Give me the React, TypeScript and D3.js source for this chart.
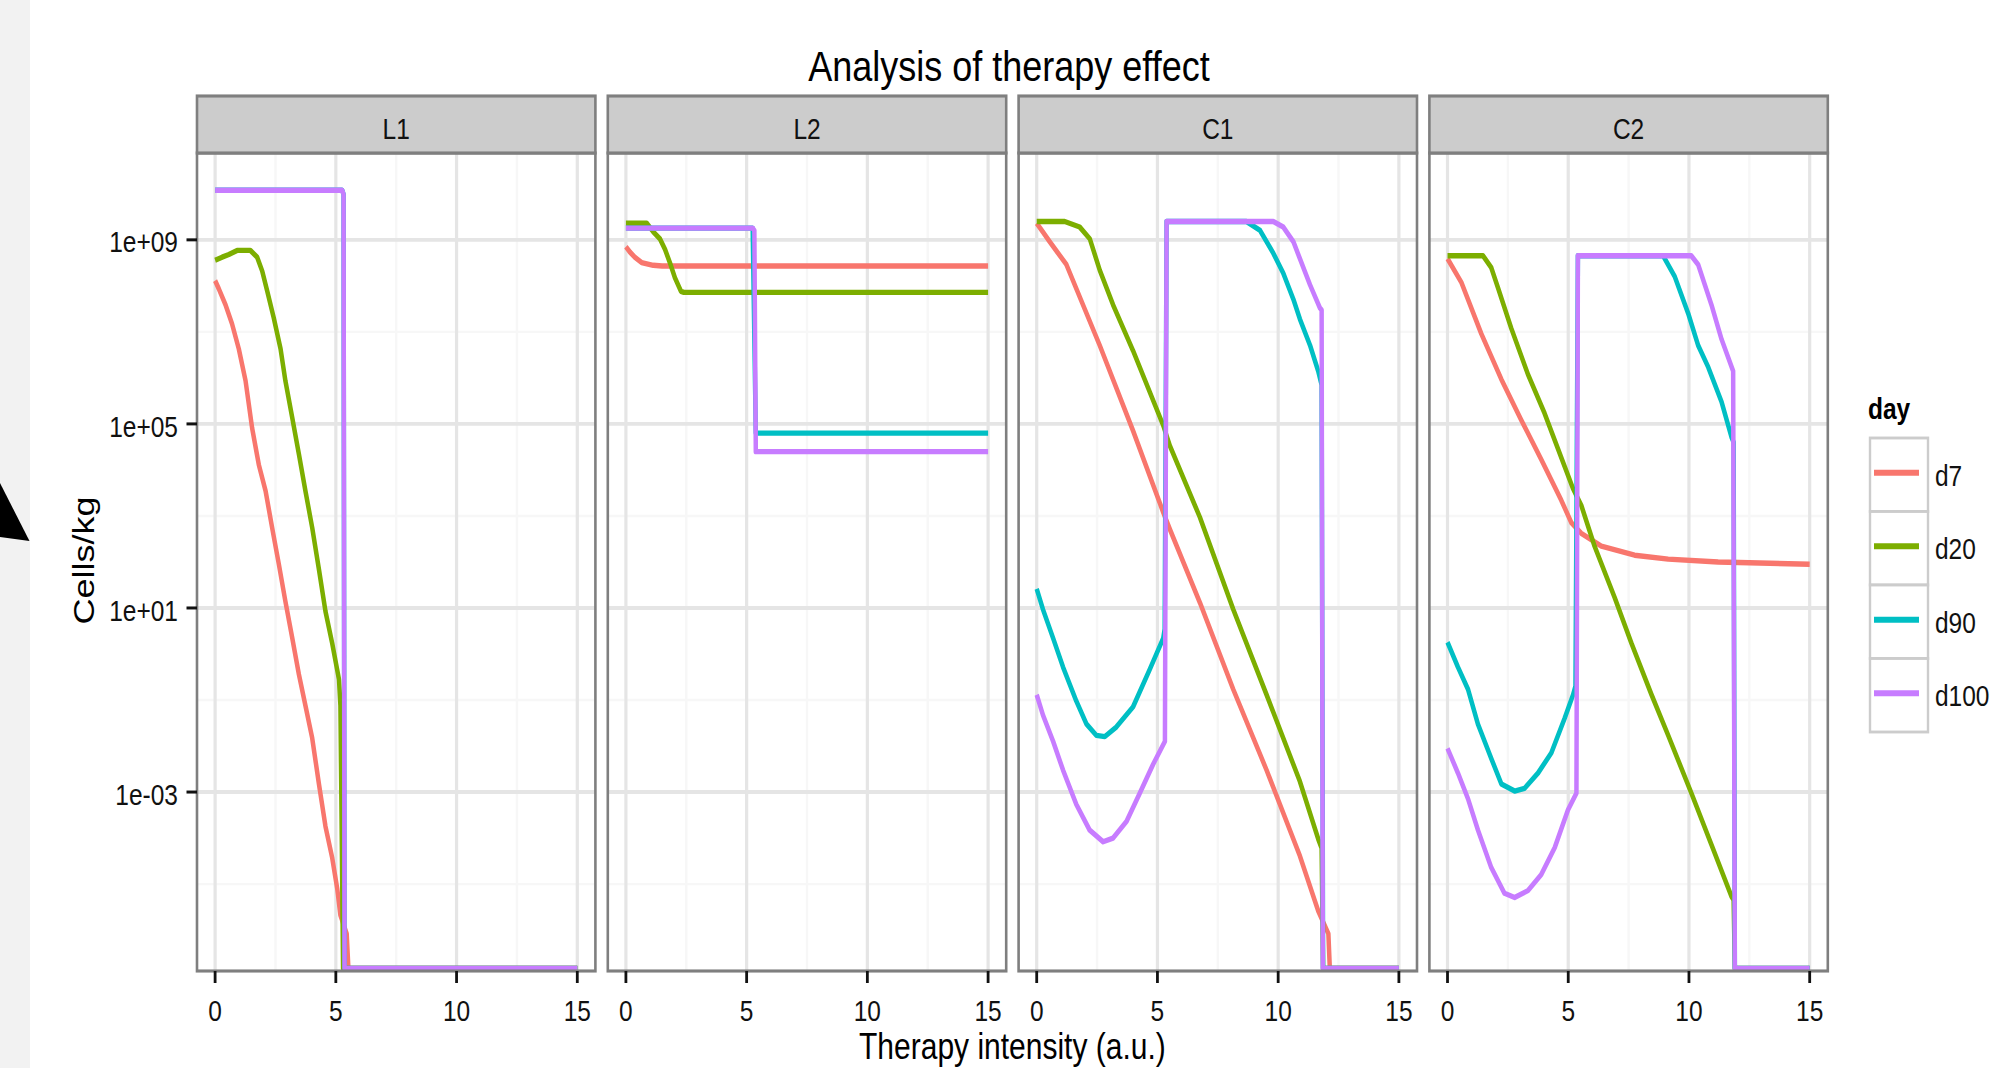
import React from "react";
import * as d3 from "d3";

type Pt = [number, number];

// ---- data: [therapy intensity, cells/kg]; 0 = below the log axis
const days = ["d7", "d20", "d90", "d100"];
const dayColors = ["#F8766D", "#7CAE00", "#00BFC4", "#C77CFF"];
const panelNames = ["L1", "L2", "C1", "C2"];
const xTicks = [0, 5, 10, 15];
const xMinor = [2.5, 7.5, 12.5];
const yTicks = [1e-3, 1e1, 1e5, 1e9];
const yTickLabels = ["1e-03", "1e+01", "1e+05", "1e+09"];
const yMinor = [1e-5, 1e-1, 1e3, 1e7];

const L1_d7: Pt[] = [
  [0, 1.3e8], [0.15, 8.7e7], [0.43, 3.9e7], [0.7, 1.5e7], [0.98, 4.3e6], [1.26, 8.7e5],
  [1.53, 8.3e4], [1.81, 1.3e4], [2.09, 3.5e3], [2.36, 5.6e2], [2.64, 8.9e1], [2.91, 1.4e1],
  [3.19, 2.3], [3.47, 0.36], [3.74, 0.076], [4.02, 0.015], [4.3, 1.5e-3], [4.57, 1.8e-4],
  [4.85, 3.7e-5], [5.06, 7.8e-6], [5.19, 2.1e-6], [5.45, 8.3e-7], [5.52, 0], [15, 0],
];
const L1_d20: Pt[] = [
  [0, 3.6e8], [0.29, 4.2e8], [0.57, 4.8e8], [0.91, 5.9e8], [1.46, 5.9e8], [1.74, 4.2e8],
  [1.95, 2.1e8], [2.16, 7.6e7], [2.43, 2.0e7], [2.71, 4.3e6], [2.91, 8.7e5], [3.19, 1.4e5],
  [3.47, 2.2e4], [3.74, 3.5e3], [4.02, 5.6e2], [4.3, 6.9e1], [4.57, 8.5], [4.85, 1.7],
  [5.13, 0.28], [5.19, 0.076], [5.3, 0], [15, 0],
];
const L1_d90: Pt[] = [[0, 1.2e10], [5.26, 1.2e10], [5.32, 9.8e9], [5.36, 0], [15, 0]];
const L1_d100: Pt[] = [[0, 1.2e10], [5.26, 1.2e10], [5.32, 9.8e9], [5.36, 0], [15, 0]];

const L2_d7: Pt[] = [
  [0, 7.1e8], [0.17, 5.4e8], [0.37, 4.2e8], [0.65, 3.2e8], [1.13, 2.8e8], [1.5, 2.7e8], [15, 2.7e8],
];
const L2_d20: Pt[] = [
  [0, 2.3e9], [0.86, 2.3e9], [1.13, 1.5e9], [1.41, 1.05e9], [1.62, 6.2e8], [1.82, 3.2e8],
  [2.03, 1.5e8], [2.28, 7.6e7], [2.4, 7.2e7], [15, 7.2e7],
];
const L2_d90: Pt[] = [[0, 1.8e9], [5.25, 1.8e9], [5.38, 6.3e4], [15, 6.3e4]];
const L2_d100: Pt[] = [[0, 1.8e9], [5.25, 1.8e9], [5.32, 1.6e9], [5.38, 2.5e4], [15, 2.5e4]];

const C1_d7: Pt[] = [
  [0, 2.3e9], [0.25, 1.5e9], [0.54, 9.1e8], [1.23, 2.9e8], [2.61, 5.1e6], [3.99, 7.1e4],
  [5.24, 1.2e3], [5.51, 5.2e2], [6.76, 1.3e1], [8.14, 0.17], [9.52, 3.0e-3], [10.9, 4.1e-5],
  [11.66, 2.6e-6], [12.08, 8.3e-7], [12.14, 0], [15, 0],
];
const C1_d20: Pt[] = [
  [0, 2.5e9], [1.16, 2.5e9], [1.78, 1.9e9], [2.2, 1.05e9], [2.61, 2.2e8], [3.16, 3.9e7],
  [3.99, 3.9e6], [5.24, 9.3e4], [5.51, 3.4e4], [6.76, 9.3e2], [8.14, 9.3], [9.52, 0.13],
  [10.9, 1.7e-3], [11.66, 9.5e-5], [11.8, 6e-5], [11.86, 0], [15, 0],
];
const C1_d90: Pt[] = [
  [0, 2.6e1], [0.26, 9.3], [0.68, 2.2], [1.09, 0.52], [1.64, 0.095], [2.06, 0.03], [2.47, 0.017],
  [2.82, 0.016], [3.3, 0.026], [3.99, 0.071], [4.68, 0.46], [5.24, 2.2], [5.3, 3.5],
  [5.38, 2.5e9], [8.69, 2.5e9], [9.25, 1.6e9], [9.8, 5.1e8], [10.21, 1.9e8], [10.63, 5.1e7],
  [10.9, 1.9e7], [11.32, 5.1e6], [11.66, 1.4e6], [11.8, 7e5], [11.86, 0], [15, 0],
];
const C1_d100: Pt[] = [
  [0, 0.13], [0.26, 0.047], [0.68, 0.0126], [1.09, 3.0e-3], [1.64, 5.4e-4], [2.19, 1.5e-4],
  [2.75, 8.3e-5], [3.16, 1.0e-4], [3.72, 2.3e-4], [4.27, 9.5e-4], [4.82, 4.0e-3], [5.31, 0.0126],
  [5.38, 2.5e9], [9.8, 2.5e9], [10.21, 1.9e9], [10.63, 9.1e8], [10.9, 3.9e8], [11.32, 1.05e8],
  [11.73, 3.3e7], [11.8, 3.0e7], [11.85, 0], [15, 0],
];

const C2_d7: Pt[] = [
  [0, 3.9e8], [0.57, 1.2e8], [1.4, 9.1e6], [2.23, 9.3e5], [3.06, 1.2e5], [3.88, 1.7e4],
  [4.71, 2.2e3], [5.13, 7.1e2], [5.54, 4.2e2], [6.37, 2.2e2], [7.75, 1.4e2], [9.14, 1.15e2],
  [11.21, 1.0e2], [15, 8.9e1],
];
const C2_d20: Pt[] = [
  [0, 4.5e8], [1.47, 4.5e8], [1.81, 2.5e8], [2.09, 9.1e7], [2.64, 1.2e7], [3.33, 1.2e6],
  [4.02, 1.7e5], [4.85, 1.2e4], [5.2, 3.9e3], [5.54, 1.7e3], [6.09, 2.2e2], [6.92, 1.7e1],
  [7.62, 1.7], [8.45, 0.13], [9.14, 0.017], [10.1, 9.5e-4], [10.93, 7.2e-5], [11.76, 5.4e-6],
  [11.85, 4.5e-6], [11.9, 0], [15, 0],
];
const C2_d90: Pt[] = [
  [0, 1.8], [0.43, 0.52], [0.85, 0.17], [1.26, 0.03], [1.81, 5.4e-3], [2.23, 1.5e-3],
  [2.78, 1.05e-3], [3.19, 1.2e-3], [3.75, 2.6e-3], [4.3, 7.1e-3], [4.85, 0.04], [5.2, 0.13],
  [5.3, 0.2], [5.4, 4.5e8], [8.93, 4.5e8], [9.41, 1.6e8], [9.97, 2.5e7], [10.38, 5.1e6],
  [10.8, 1.7e6], [11.35, 3.0e5], [11.76, 5.2e4], [11.85, 4e4], [11.9, 0], [15, 0],
];
const C2_d100: Pt[] = [
  [0, 8.9e-3], [0.43, 2.6e-3], [0.85, 7.1e-4], [1.26, 1.5e-4], [1.81, 2.3e-5], [2.36, 6.3e-6],
  [2.78, 5.1e-6], [3.33, 7.2e-6], [3.88, 1.6e-5], [4.44, 6.2e-5], [4.99, 4.1e-4], [5.34, 9.5e-4],
  [5.4, 4.5e8], [10.1, 4.5e8], [10.38, 2.9e8], [10.66, 1.05e8], [10.93, 3.9e7], [11.35, 6.9e6],
  [11.83, 1.4e6], [11.9, 0], [15, 0],
];

const panelSeries: Pt[][][] = [
  [L1_d7, L1_d20, L1_d90, L1_d100],
  [L2_d7, L2_d20, L2_d90, L2_d100],
  [C1_d7, C1_d20, C1_d90, C1_d100],
  [C2_d7, C2_d20, C2_d90, C2_d100],
];

// ---- layout (the reference is stretched vertically, so draw in a y-scaled group)
const W = 2005;
const H = 1068;
const SY = 1.2;
const u = (v: number) => v / SY;

const panelLeft = 197;
const panelW = 398.4;
const panelGap = 12.4;
const stripTop = u(96);
const panelTop = u(153);
const panelBottom = u(971);
const font = "'Liberation Sans', Arial, Helvetica, sans-serif";
const grey50 = "#7f7f7f";

const allPts = panelSeries.flat(2);
const xExt = d3.extent(allPts, (d) => d[0]) as [number, number];
const xPad = (xExt[1] - xExt[0]) * 0.05;
const posVals = allPts.map((d) => d[1]).filter((v) => v > 0);
const lo = Math.log10(d3.min(posVals)!);
const hi = Math.log10(d3.max(posVals)!);
const yPad = (hi - lo) * 0.05;
const y = d3.scaleLog().domain([10 ** (lo - yPad), 10 ** (hi + yPad)]).range([panelBottom, panelTop]);
const yZero = panelBottom - u(2.5);

const panelX = (i: number) => panelLeft + i * (panelW + panelGap);

const Panel = ({ i }: { i: number }) => {
  const left = panelX(i);
  const x = d3.scaleLinear().domain([xExt[0] - xPad, xExt[1] + xPad]).range([left, left + panelW]);
  const line = d3
    .line<Pt>()
    .x((d) => x(d[0]))
    .y((d) => (d[1] > 0 ? y(d[1]) : yZero));
  const clipId = `clip-${i}`;
  return (
    <g>
      <clipPath id={clipId}>
        <rect x={left} y={panelTop} width={panelW} height={panelBottom - panelTop} />
      </clipPath>
      <rect x={left} y={panelTop} width={panelW} height={panelBottom - panelTop} fill="#fff" />
      <g clipPath={`url(#${clipId})`}>
        {yMinor.map((t) => (
          <line key={"ym" + t} x1={left} x2={left + panelW} y1={y(t)} y2={y(t)} stroke="#f7f7f7" strokeWidth={2} />
        ))}
        {xMinor.map((t) => (
          <line key={"xm" + t} x1={x(t)} x2={x(t)} y1={panelTop} y2={panelBottom} stroke="#f7f7f7" strokeWidth={2.4} />
        ))}
        {yTicks.map((t) => (
          <line key={"yg" + t} x1={left} x2={left + panelW} y1={y(t)} y2={y(t)} stroke="#e5e5e5" strokeWidth={3.2} />
        ))}
        {xTicks.map((t) => (
          <line key={"xg" + t} x1={x(t)} x2={x(t)} y1={panelTop} y2={panelBottom} stroke="#e5e5e5" strokeWidth={3.2} />
        ))}
        {panelSeries[i].map((s, k) => (
          <path
            key={days[k]}
            d={line(s) || ""}
            fill="none"
            stroke={dayColors[k]}
            strokeWidth={4.5}
            strokeLinejoin="round"
          />
        ))}
      </g>
      <rect
        x={left}
        y={panelTop}
        width={panelW}
        height={panelBottom - panelTop}
        fill="none"
        stroke={grey50}
        strokeWidth={2.6}
      />
      <rect
        x={left}
        y={stripTop}
        width={panelW}
        height={panelTop - stripTop}
        fill="#cccccc"
        stroke={grey50}
        strokeWidth={2.6}
      />
      <text
        x={left + panelW / 2}
        y={u(139)}
        textAnchor="middle"
        fontSize={24.5}
        fontFamily={font}
        fill="#111"
      >
        {panelNames[i]}
      </text>
      {xTicks.map((t) => (
        <g key={"xt" + t}>
          <line x1={x(t)} x2={x(t)} y1={panelBottom} y2={u(983)} stroke="#111" strokeWidth={2.8} />
          <text x={x(t)} y={u(1021)} textAnchor="middle" fontSize={24.5} fontFamily={font} fill="#111">
            {t}
          </text>
        </g>
      ))}
    </g>
  );
};

const App = () => {
  const legendTop = 438;
  const keyH = 73.5;
  return (
    <svg
      width={W}
      height={H}
      style={{ position: "absolute", left: 0, top: 0, display: "block", background: "#fff" }}
    >
      <g transform={`scale(1, ${SY})`}>
        <rect x={0} y={0} width={30} height={u(H)} fill="#f2f2f2" />
        <polygon points={`0,${u(483)} 29.5,${u(541)} 0,${u(537)}`} fill="#000" />

        <text x={1009} y={u(80.7)} textAnchor="middle" fontSize={36} fontFamily={font} fill="#000">
          Analysis of therapy effect
        </text>

        {panelNames.map((_, i) => (
          <Panel key={i} i={i} />
        ))}

        {yTicks.map((t, k) => (
          <g key={"yt" + t}>
            <line x1={186.5} x2={panelLeft} y1={y(t)} y2={y(t)} stroke="#111" strokeWidth={2.5} />
            <text x={178} y={y(t) + 10.5} textAnchor="end" fontSize={24.5} fontFamily={font} fill="#111">
              {yTickLabels[k]}
            </text>
          </g>
        ))}

        <text
          transform={`translate(94, ${u(560.5)}) rotate(-90)`}
          textAnchor="middle"
          fontSize={30}
          fontFamily={font}
          fill="#000"
        >
          Cells/kg
        </text>
        <text
          x={panelLeft + (4 * panelW + 3 * panelGap) / 2}
          y={u(1059)}
          textAnchor="middle"
          fontSize={30}
          fontFamily={font}
          fill="#000"
        >
          Therapy intensity (a.u.)
        </text>

        <text x={1868} y={u(419)} fontSize={24.5} fontWeight="bold" fontFamily={font} fill="#000">
          day
        </text>
        {days.map((d, k) => {
          const top = legendTop + k * keyH;
          const cy = top + keyH / 2 - 2;
          return (
            <g key={d}>
              <rect
                x={1870}
                y={u(top)}
                width={58}
                height={u(keyH)}
                fill="#fff"
                stroke="#cccccc"
                strokeWidth={2.4}
              />
              <line x1={1874} x2={1919} y1={u(cy)} y2={u(cy)} stroke={dayColors[k]} strokeWidth={5} />
              <text x={1935} y={u(cy + 13)} fontSize={24.5} fontFamily={font} fill="#111">
                {d}
              </text>
            </g>
          );
        })}
      </g>
    </svg>
  );
};

export default App;
